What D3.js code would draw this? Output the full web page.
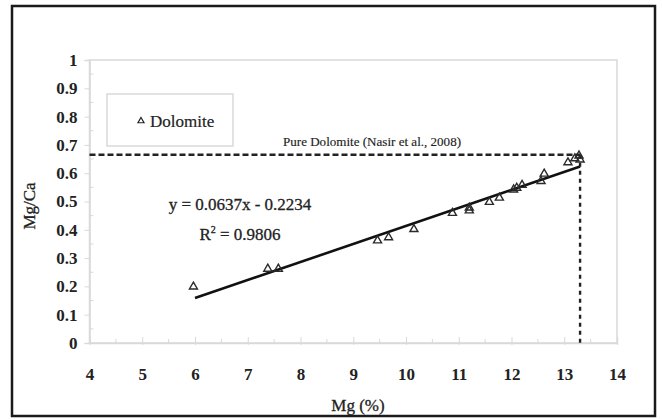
<!DOCTYPE html>
<html>
<head>
<meta charset="utf-8">
<script src="https://cdn.jsdelivr.net/npm/d3@7"></script>
<style>
  html, body { margin: 0; padding: 0; background: #fff; }
  svg { display: block; }
  text { font-family: "Liberation Serif", "Times New Roman", "DejaVu Serif", serif; fill: #222; }
</style>
</head>
<body>
<svg id="chart" width="662" height="419"></svg>
<script>
// Dolomite samples: Mg (%) against Mg/Ca
const mgPercent = [5.97, 7.38, 7.58, 9.46, 9.67, 10.15, 10.88, 11.2, 11.2, 11.58,
                   11.77, 12.04, 12.1, 12.2, 12.56, 12.62, 13.07, 13.2, 13.28, 13.3];
const mgCaRatio = [0.199, 0.262, 0.262, 0.362, 0.373, 0.402, 0.459, 0.468, 0.478, 0.498,
                   0.513, 0.542, 0.548, 0.558, 0.572, 0.598, 0.638, 0.652, 0.662, 0.648];

// Linear fit reported on the chart
const slope = 0.0637;
const intercept = -0.2234;
const rSquared = 0.9806;
const fitRange = [6, 13.3];

// Pure dolomite reference (Nasir et al., 2008)
const pureDolomiteMg = 13.3;
const pureDolomiteRatio = 0.665;

const xTicks = [4, 5, 6, 7, 8, 9, 10, 11, 12, 13, 14];
const yTicks = [0, 0.1, 0.2, 0.3, 0.4, 0.5, 0.6, 0.7, 0.8, 0.9, 1];
const xMinor = [4.5, 5.5, 6.5, 7.5, 8.5, 9.5, 10.5, 11.5, 12.5, 13.5];
const yMinor = [0.05, 0.15, 0.25, 0.35, 0.45, 0.55, 0.65, 0.75, 0.85, 0.95];

const svg = d3.select("#chart");
const x = d3.scaleLinear().domain([4, 14]).range([89.5, 617]);
const y = d3.scaleLinear().domain([0, 1]).range([343, 60]);
const grey = "#d9d9d9";
const serif = "'Liberation Serif', 'Times New Roman', serif";

// outer frame
svg.append("rect")
  .attr("x", 12).attr("y", 6).attr("width", 643).attr("height", 410)
  .attr("fill", "none").attr("stroke", "#1a1a1a").attr("stroke-width", 2.5);

// plot area border
svg.append("rect")
  .attr("x", x(4)).attr("y", y(1))
  .attr("width", x(14) - x(4)).attr("height", y(0) - y(1))
  .attr("fill", "none").attr("stroke", grey).attr("stroke-width", 1.5);

// x axis
const xAxis = svg.append("g")
  .attr("transform", `translate(0,${y(0)})`)
  .call(d3.axisBottom(x).tickValues(xTicks).tickSize(-6).tickPadding(25)
    .tickFormat(d3.format("d")));
xAxis.attr("font-family", serif);
xAxis.select(".domain").attr("stroke", grey).attr("stroke-width", 1.5);
xAxis.selectAll(".tick line").attr("stroke", grey).attr("y2", -6).attr("y1", 2);
xAxis.selectAll(".tick text")
  .attr("font-size", 17).attr("font-weight", "bold").attr("fill", "#2a2a2a");
svg.append("g").selectAll("line").data(xMinor).join("line")
  .attr("x1", d => x(d)).attr("x2", d => x(d))
  .attr("y1", y(0)).attr("y2", y(0) - 4)
  .attr("stroke", grey);

// y axis
const yAxis = svg.append("g")
  .attr("transform", `translate(${x(4)},0)`)
  .call(d3.axisLeft(y).tickValues(yTicks).tickSize(5).tickPadding(7)
    .tickFormat(d3.format("~g")));
yAxis.attr("font-family", serif);
yAxis.select(".domain").attr("stroke", grey).attr("stroke-width", 1.5);
yAxis.selectAll(".tick line").attr("stroke", grey);
yAxis.selectAll(".tick text")
  .attr("font-size", 17).attr("font-weight", "bold").attr("fill", "#2a2a2a");
svg.append("g").selectAll("line").data(yMinor).join("line")
  .attr("x1", x(4)).attr("x2", x(4) + 4)
  .attr("y1", d => y(d)).attr("y2", d => y(d))
  .attr("stroke", grey);

// axis titles
svg.append("text")
  .attr("x", 358).attr("y", 411)
  .attr("text-anchor", "middle").attr("font-size", 17)
  .attr("stroke", "#222").attr("stroke-width", 0.3)
  .text("Mg (%)");
svg.append("text")
  .attr("transform", "translate(35,206) rotate(-90)")
  .attr("text-anchor", "middle").attr("font-size", 17)
  .attr("stroke", "#222").attr("stroke-width", 0.3)
  .text("Mg/Ca");

// legend
svg.append("rect")
  .attr("x", 107).attr("y", 94).attr("width", 126).attr("height", 52)
  .attr("fill", "none").attr("stroke", grey).attr("stroke-width", 1.5);
svg.append("path")
  .attr("d", d3.symbol(d3.symbolTriangle, 16)())
  .attr("transform", "translate(141,121)")
  .attr("fill", "none").attr("stroke", "#222").attr("stroke-width", 1.2);
svg.append("text")
  .attr("x", 150).attr("y", 127)
  .attr("font-size", 17)
  .attr("stroke", "#222").attr("stroke-width", 0.2)
  .text("Dolomite");

// pure dolomite reference lines
svg.append("line")
  .attr("x1", x(4)).attr("x2", x(pureDolomiteMg))
  .attr("y1", y(pureDolomiteRatio)).attr("y2", y(pureDolomiteRatio))
  .attr("stroke", "#222").attr("stroke-width", 2.4).attr("stroke-dasharray", "6,3");
svg.append("line")
  .attr("x1", x(pureDolomiteMg)).attr("x2", x(pureDolomiteMg))
  .attr("y1", y(pureDolomiteRatio)).attr("y2", y(0))
  .attr("stroke", "#222").attr("stroke-width", 2.4).attr("stroke-dasharray", "4,4");
svg.append("text")
  .attr("x", 372).attr("y", 146)
  .attr("text-anchor", "middle").attr("font-size", 13)
  .attr("stroke", "#222").attr("stroke-width", 0.15)
  .attr("textLength", 178).attr("lengthAdjust", "spacingAndGlyphs")
  .text("Pure Dolomite (Nasir et al., 2008)");

// regression line
svg.append("line")
  .attr("x1", x(fitRange[0])).attr("y1", y(slope * fitRange[0] + intercept))
  .attr("x2", x(fitRange[1])).attr("y2", y(slope * fitRange[1] + intercept))
  .attr("stroke", "#111").attr("stroke-width", 2.6);

// data points
const tri = d3.symbol(d3.symbolTriangle, 28)();
svg.append("g").selectAll("path")
  .data(mgPercent.map((m, i) => [m, mgCaRatio[i]]))
  .join("path")
  .attr("d", tri)
  .attr("transform", d => `translate(${x(d[0])},${y(d[1])})`)
  .attr("fill", "none").attr("stroke", "#2a2a2a").attr("stroke-width", 1.4);

// equation labels
svg.append("text")
  .attr("x", 240).attr("y", 210)
  .attr("text-anchor", "middle").attr("font-size", 17)
  .attr("stroke", "#222").attr("stroke-width", 0.3)
  .text(`y = ${slope}x - ${Math.abs(intercept)}`);
const r2 = svg.append("text")
  .attr("x", 240).attr("y", 240)
  .attr("text-anchor", "middle").attr("font-size", 17)
  .attr("stroke", "#222").attr("stroke-width", 0.3);
r2.append("tspan").text("R");
r2.append("tspan").attr("dy", -7).attr("font-size", 10).text("2");
r2.append("tspan").attr("dy", 7).text(` = ${rSquared}`);
</script>
</body>
</html>
